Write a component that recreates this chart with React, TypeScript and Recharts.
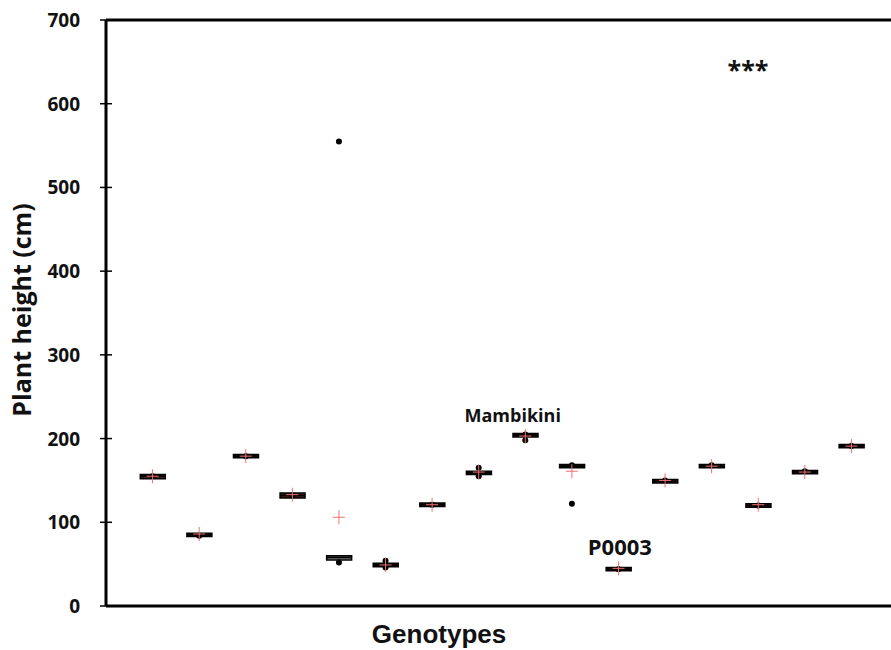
import {
  ComposedChart,
  Bar,
  Cell,
  Scatter,
  XAxis,
  YAxis,
  ReferenceLine,
  ReferenceDot,
} from 'recharts'

// genotype positions on the x axis (1..16)
const genotypes = [1, 2, 3, 4, 5, 6, 7, 8, 9, 10, 11, 12, 13, 14, 15, 16]
const q1 = [152, 83, 177, 129, 55, 47, 119, 157, 202, 165, 42, 147, 165, 118, 158, 189]
const q3 = [157, 87, 181, 135, 60, 51, 123, 161, 206, 169, 46, 151, 169, 122, 162, 193]
const medians = [155, 85, 179, 132, 58, 49, 121, 159, 204, 167, 44, 149, 167, 120, 160, 191]
const means = [155, 86, 179, 133, 106, 49, 121, 160, 203, 161, 45, 150, 167, 121, 160, 191]

// individual observations shown as black dots
const pointGenotype = [1, 2, 3, 4, 5, 5, 6, 6, 7, 8, 8, 9, 9, 10, 10, 11, 12, 13, 14, 15, 16]
const pointValue = [155, 84, 179, 132, 52, 555, 46, 54, 121, 155, 165, 205, 198, 168, 122, 44, 150, 168, 120, 161, 191]

const yTicks = [0, 100, 200, 300, 400, 500, 600, 700]

const boxData = genotypes.map((g, i) => ({
  x: g,
  range: [q1[i], q3[i]],
  median: medians[i],
  mean: means[i],
}))

const pointData = pointGenotype.map((g, i) => ({ x: g, y: pointValue[i] }))

const labelFont = '"Open Sans", "Noto Sans", sans-serif'
const arialFont = '"Liberation Sans", Arial, sans-serif'

function YTick(props: any) {
  const { x, y, payload } = props
  return (
    <g>
      <line x1={x - 6} x2={x + 6} y1={y} y2={y} stroke="#000" strokeWidth={1.5} />
      <text
        x={x - 26}
        y={y}
        dy={7}
        textAnchor="end"
        fontFamily={labelFont}
        fontWeight={700}
        fontSize={19}
        fill="#111"
      >
        {payload.value}
      </text>
    </g>
  )
}

function MedianLine(props: any) {
  const { cx, cy } = props
  return <line x1={cx - 12} x2={cx + 12} y1={cy} y2={cy} stroke="#000" strokeWidth={2} />
}

function MeanCross(props: any) {
  const { cx, cy } = props
  return (
    <g stroke="#f07070" strokeWidth={1}>
      <line x1={cx - 6} x2={cx + 6} y1={cy} y2={cy} />
      <line x1={cx} x2={cx} y1={cy - 7} y2={cy + 7} />
    </g>
  )
}

function Dot(props: any) {
  const { cx, cy } = props
  return <circle cx={cx} cy={cy} r={3} fill="#000" />
}

export default function App() {
  return (
    <div style={{ position: 'absolute', left: 0, top: 0, width: 891, height: 650, overflow: 'hidden', background: '#fff' }}>
      <ComposedChart
        width={912}
        height={650}
        data={boxData}
        margin={{ top: 20, right: 14, bottom: 0, left: 0 }}
      >
        <XAxis
          dataKey="x"
          type="number"
          domain={[0, 17]}
          ticks={[]}
          tick={false}
          tickLine={false}
          axisLine={{ stroke: '#000', strokeWidth: 3 }}
          height={44}
          label={{
            value: 'Genotypes',
            position: 'insideBottom',
            offset: 7,
            dx: -63,
            fill: '#111',
            style: { fontSize: 26, fontWeight: 700, fontFamily: arialFont },
          }}
        />
        <YAxis
          type="number"
          domain={[0, 700]}
          ticks={yTicks}
          interval={0}
          width={106}
          tickSize={0}
          tickMargin={0}
          tickLine={false}
          tick={<YTick />}
          axisLine={{ stroke: '#000', strokeWidth: 3 }}
          label={{
            value: 'Plant height (cm)',
            angle: -90,
            position: 'insideLeft',
            offset: 22,
            dy: -3,
            fill: '#111',
            style: { textAnchor: 'middle', fontSize: 25, fontWeight: 700, fontFamily: labelFont },
          }}
        />
        <ReferenceLine y={700} stroke="#000" strokeWidth={3} />
        <Bar dataKey="range" barSize={25} stroke="#000" strokeWidth={1.5} isAnimationActive={false}>
          {boxData.map((d, i) => (
            <Cell key={i} fill={d.x === 5 ? '#9a9a9a' : '#5a2a24'} />
          ))}
        </Bar>
        <Scatter dataKey="median" shape={<MedianLine />} isAnimationActive={false} />
        <Scatter data={pointData} dataKey="y" shape={<Dot />} isAnimationActive={false} />
        <Scatter dataKey="mean" shape={<MeanCross />} isAnimationActive={false} />
        <ReferenceDot
          x={8.73}
          y={228}
          r={0}
          stroke="none"
          label={{ value: 'Mambikini', position: 'center', fill: '#111', style: { fontSize: 18, fontWeight: 700, fontFamily: labelFont } }}
        />
        <ReferenceDot
          x={11.03}
          y={70}
          r={0}
          stroke="none"
          label={{ value: 'P0003', position: 'center', fill: '#111', style: { fontSize: 22, fontWeight: 700, fontFamily: labelFont } }}
        />
        <ReferenceDot
          x={13.78}
          y={640}
          r={0}
          stroke="none"
          label={{ value: '***', position: 'center', fill: '#111', style: { fontSize: 25, fontWeight: 700, fontFamily: labelFont } }}
        />
      </ComposedChart>
    </div>
  )
}
